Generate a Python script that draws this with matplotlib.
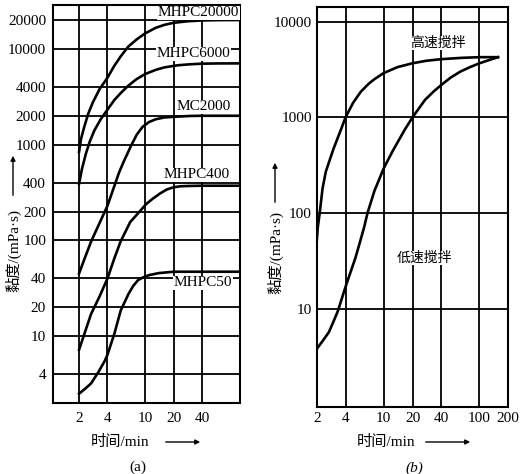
import matplotlib.pyplot as plt
from matplotlib.ticker import FixedLocator, NullLocator

plt.rcParams['font.family'] = ['Liberation Serif', 'Noto Sans CJK SC']

# ---- panel (a) ----
a_xticks = [2, 4, 10, 20, 40]
a_yticks = [4, 10, 20, 40, 100, 200, 400, 1000, 2000, 4000, 10000, 20000]

t_20000 = [2, 2.1, 2.27, 2.5, 2.8, 3.3, 4, 4.7, 5.5, 6.6, 8.1, 10, 13, 16, 20, 28, 40, 60, 101]
v_20000 = [840, 1150, 1530, 2100, 2760, 3800, 5000, 6600, 8300, 10500, 12500, 14500,
           16600, 17800, 18700, 19400, 19800, 19950, 20000]

t_6000 = [2, 2.15, 2.36, 2.6, 2.91, 3.4, 4, 4.7, 5.5, 6.6, 8.1, 10, 13, 16, 22, 30, 40, 60, 101]
v_6000 = [390, 560, 800, 1080, 1410, 1850, 2320, 2900, 3440, 4100, 4820, 5450, 6040,
          6400, 6730, 6900, 7000, 7040, 7050]

t_2000 = [2, 2.27, 2.68, 3.3, 4, 4.73, 5.3, 5.96, 7.2, 8.2, 9.4, 11, 13, 16, 22, 30, 40, 101]
v_2000 = [45, 63, 97, 152, 230, 370, 510, 670, 1000, 1280, 1530, 1720, 1840, 1920,
          1960, 1990, 2000, 2000]

t_400 = [2, 2.68, 3.3, 4, 4.73, 5.5, 6.95, 8.75, 10.3, 12.1, 14.5, 17, 20, 23.7, 30, 40, 101]
v_400 = [7.2, 17, 26, 40, 65, 97, 155, 200, 240, 273, 310, 340, 358, 367, 370, 372, 372]

t_50 = [2, 2.3, 2.68, 3.2, 3.74, 4, 4.73, 5.52, 6.69, 7.5, 8.42, 9.5, 11, 14, 20, 40, 101]
v_50 = [2.5, 2.8, 3.2, 4.2, 5.5, 6.4, 10.6, 18.5, 27.7, 33.5, 38.4, 41, 43.3, 45.5, 47, 47, 47]

a_series = [(t_20000, v_20000), (t_6000, v_6000), (t_2000, v_2000),
            (t_400, v_400), (t_50, v_50)]
a_names = ['MHPC20000', 'MHPC6000', 'MC2000', 'MHPC400', 'MHPC50']

# ---- panel (b) ----
b_xticks = [2, 4, 10, 20, 40, 100, 200]
b_yticks = [10, 100, 1000, 10000]

t_fast = [2, 2.05, 2.15, 2.3, 2.49, 2.99, 3.58, 4, 4.8, 5.77, 7, 8, 10, 14, 20, 28,
          40, 65, 100, 156]
v_fast = [50, 70, 100, 180, 271, 467, 743, 1000, 1420, 1850, 2250, 2500, 2900, 3350,
          3670, 3900, 4050, 4180, 4250, 4250]

t_slow = [2, 2.3, 2.68, 3, 3.33, 4, 4.5, 5.07, 5.6, 6.25, 6.78, 8, 10, 12.5, 16.6, 20,
          27, 33, 40, 50, 63, 80, 100, 125, 156]
v_slow = [3.8, 4.6, 5.7, 7.4, 9.5, 17, 24, 34, 48, 71, 100, 170, 293, 450, 743, 1000,
          1520, 1850, 2180, 2600, 3000, 3350, 3670, 3950, 4250]

b_names = ['高速搅拌', '低速搅拌']

W, H = 526, 474


def box(l, t, r, b):
    return [l / W, 1 - b / H, (r - l) / W, (b - t) / H]


def fx(x):
    return x / W


def fy(y):
    return 1 - y / H


def setup(ax, xlim, ylim, xticks, yticks, xpad, ypad):
    ax.set_xscale('log')
    ax.set_yscale('log')
    ax.set_xlim(*xlim)
    ax.set_ylim(*ylim)
    ax.xaxis.set_major_locator(FixedLocator(xticks))
    ax.yaxis.set_major_locator(FixedLocator(yticks))
    ax.xaxis.set_minor_locator(NullLocator())
    ax.yaxis.set_minor_locator(NullLocator())
    ax.set_xticklabels([str(v) for v in xticks])
    ax.set_yticklabels([str(v) for v in yticks])
    ax.set_axisbelow(True)
    ax.grid(True, which='major', color='black', lw=1.3)
    ax.tick_params(axis='x', length=0, labelsize=11, pad=xpad)
    ax.tick_params(axis='y', length=0, labelsize=11, pad=ypad)
    for s in ax.spines.values():
        s.set_linewidth(1.5)


fig = plt.figure(figsize=(W / 100, H / 100), dpi=100)
ax1 = fig.add_axes(box(53, 5, 240, 403))
ax2 = fig.add_axes(box(316.7, 7.3, 508.3, 406.7))

setup(ax1, (1.06, 101), (2.0, 28700), a_xticks, a_yticks, 6.5, 5)
setup(ax2, (2, 200), (0.95, 14100), b_xticks, b_yticks, 4, 3.5)

for (t, v) in a_series:
    ax1.plot(t, v, color='black', lw=1.9, solid_joinstyle='round')

label_pos = [(0.995, 0.98), (0.947, 0.877), (0.952, 0.744), (0.947, 0.573), (0.957, 0.302)]
for name, (px, py) in zip(a_names, label_pos):
    ax1.text(px, py, name, transform=ax1.transAxes, ha='right', va='center', fontsize=11,
             bbox=dict(facecolor='white', edgecolor='none', pad=0.5))

ax2.plot(t_fast, v_fast, color='black', lw=1.9, solid_joinstyle='round')
ax2.plot(t_slow, v_slow, color='black', lw=1.9, solid_joinstyle='round')
ax2.text(0.633, 0.911, b_names[0], transform=ax2.transAxes, ha='center', va='center',
         fontsize=10, bbox=dict(facecolor='white', edgecolor='none', pad=0.5))
ax2.text(0.56, 0.372, b_names[1], transform=ax2.transAxes, ha='center', va='center',
         fontsize=10, bbox=dict(facecolor='white', edgecolor='none', pad=0.5))

arrow = dict(arrowstyle='-|>', color='black', lw=1.0, mutation_scale=7)

# axis titles with arrows
for xl, ax_x, ax_y in [(120, 163, 203), (386, 423, 473)]:
    fig.text(fx(xl), fy(442), '时间/min', ha='center', va='center', fontsize=11)
    ax1.annotate('', xy=(fx(ax_y), fy(442)), xytext=(fx(ax_x), fy(442)),
                 xycoords='figure fraction', textcoords='figure fraction', arrowprops=arrow)

for xl, yc, y0, y1 in [(13, 250, 198, 153), (275, 252, 205, 160)]:
    fig.text(fx(xl), fy(yc), '黏度/(mPa·s)', ha='center', va='center', rotation=90, fontsize=11)
    ax1.annotate('', xy=(fx(xl), fy(y1)), xytext=(fx(xl), fy(y0)),
                 xycoords='figure fraction', textcoords='figure fraction', arrowprops=arrow)

fig.text(fx(138), fy(467), '(a)', ha='center', va='center', fontsize=11)
fig.text(fx(414), fy(468), '(b)', ha='center', va='center', fontsize=11, style='italic')

fig.savefig('out.png', dpi=100)
